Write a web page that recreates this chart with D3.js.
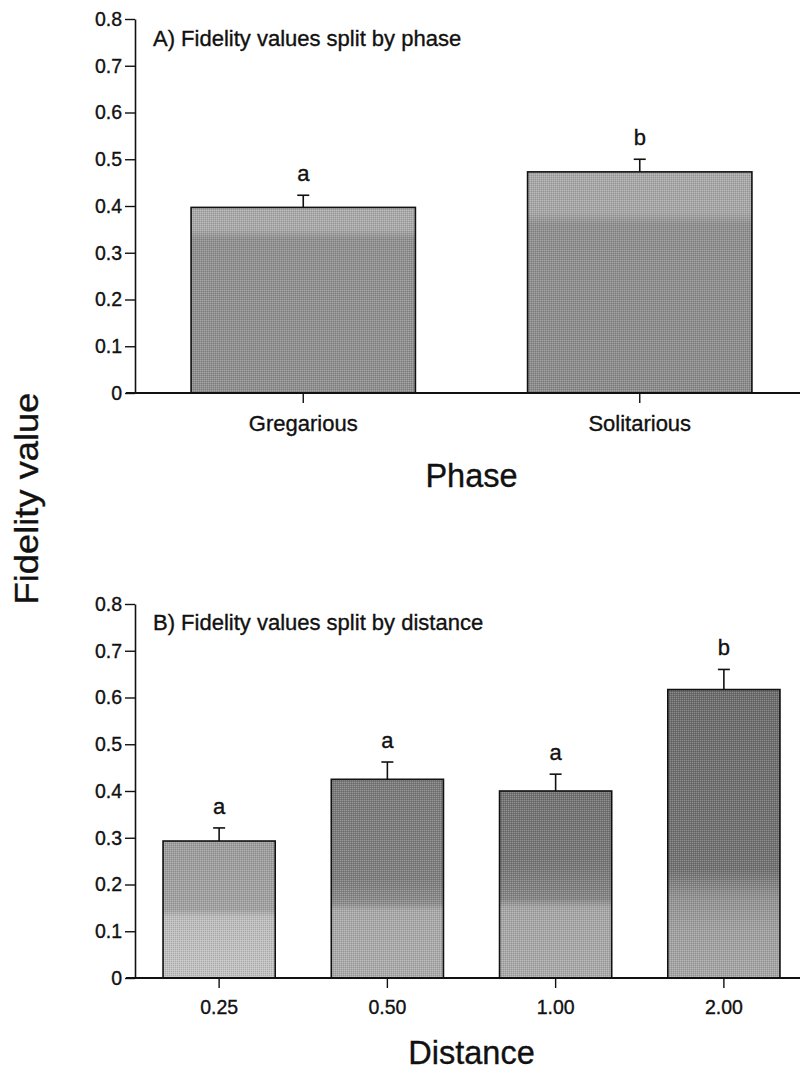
<!DOCTYPE html>
<html>
<head>
<meta charset="utf-8">
<script src="https://cdn.jsdelivr.net/npm/d3@7/dist/d3.min.js"></script>
<style>
  html, body { margin: 0; padding: 0; background: #fff; }
  svg { display: block; }
  text { font-family: "Liberation Sans", Arial, Helvetica, sans-serif; fill: #111; stroke: #111; stroke-width: 0.35px; }
</style>
</head>
<body>
<svg id="chart" width="800" height="1079"></svg>
<script>
// ---------------- DATA ----------------
const phaseCategories = ["Gregarious", "Solitarious"];
const phaseMeans = [0.397, 0.473];
const phaseErrors = [0.026, 0.027];
const phaseLetters = ["a", "b"];

const distanceCategories = ["0.25", "0.50", "1.00", "2.00"];
const distanceMeans = [0.293, 0.425, 0.400, 0.617];
const distanceErrors = [0.028, 0.037, 0.036, 0.043];
const distanceLetters = ["a", "a", "a", "b"];

const yTickValues = [0, 0.1, 0.2, 0.3, 0.4, 0.5, 0.6, 0.7, 0.8];
const yTickLabels = ["0", "0.1", "0.2", "0.3", "0.4", "0.5", "0.6", "0.7", "0.8"];

const panelTitles = ["A) Fidelity values split by phase", "B) Fidelity values split by distance"];
const xAxisTitles = ["Phase", "Distance"];
const yAxisTitle = "Fidelity value";

// ---------------- STYLE (shading of the scanned halftone bars) ----------------
// each entry: [value level, grey colour] from bottom to top of the bar
const phaseShades = [
  [[0, "#8e8e8e"], [0.33, "#909090"], [0.35, "#a9a9a9"], [0.40, "#ababab"]],
  [[0, "#8b8b8b"], [0.36, "#8f8f8f"], [0.385, "#a6a6a6"], [0.48, "#a9a9a9"]]
];
const distanceShades = [
  [[0, "#c2c2c2"], [0.13, "#bdbdbd"], [0.145, "#a2a2a2"], [0.30, "#9c9c9c"]],
  [[0, "#ababab"], [0.145, "#a9a9a9"], [0.16, "#8c8c8c"], [0.21, "#7e7e7e"], [0.43, "#7a7a7a"]],
  [[0, "#aaaaaa"], [0.15, "#a6a6a6"], [0.17, "#858585"], [0.25, "#767676"], [0.41, "#727272"]],
  [[0, "#a6a6a6"], [0.10, "#a0a0a0"], [0.17, "#939393"], [0.23, "#727272"], [0.62, "#6c6c6c"]]
];

// ---------------- LAYOUT ----------------
const svg = d3.select("#chart");
const W = 800;
const axisX = 135;
const xRange = [135, 808];
const numFont = '"DejaVu Sans", Verdana, sans-serif';

const defs = svg.append("defs");
// halftone texture overlay
const pat = defs.append("pattern")
  .attr("id", "halftone").attr("patternUnits", "userSpaceOnUse")
  .attr("width", 2).attr("height", 2);
pat.append("rect").attr("x", 0).attr("y", 0).attr("width", 1).attr("height", 1)
  .attr("fill", "#fff").attr("fill-opacity", 0.22);
pat.append("rect").attr("x", 1).attr("y", 1).attr("width", 1).attr("height", 1)
  .attr("fill", "#000").attr("fill-opacity", 0.12);

function drawPanel(cfg) {
  const y = d3.scaleLinear().domain([0, 0.8]).range([cfg.y0, cfg.y1]);
  const x = d3.scaleBand().domain(cfg.categories).range(xRange)
    .paddingInner(1 / 3).paddingOuter(1 / 6);

  const g = svg.append("g");

  // gradients
  cfg.categories.forEach((c, i) => {
    const grad = defs.append("linearGradient")
      .attr("id", cfg.id + "grad" + i)
      .attr("gradientUnits", "userSpaceOnUse")
      .attr("x1", 0).attr("x2", 0)
      .attr("y1", y(0)).attr("y2", y(0.8));
    cfg.shades[i].forEach(s => {
      grad.append("stop").attr("offset", s[0] / 0.8).attr("stop-color", s[1]);
    });
  });

  const data = cfg.categories.map((c, i) => ({
    cat: c, mean: cfg.means[i], err: cfg.errors[i], letter: cfg.letters[i], i
  }));

  // bars
  g.selectAll("rect.bar").data(data).enter().append("rect")
    .attr("class", "bar")
    .attr("x", d => x(d.cat))
    .attr("y", d => y(d.mean))
    .attr("width", x.bandwidth())
    .attr("height", d => y(0) - y(d.mean))
    .attr("fill", d => `url(#${cfg.id}grad${d.i})`);
  g.selectAll("rect.tex").data(data).enter().append("rect")
    .attr("class", "tex")
    .attr("x", d => x(d.cat))
    .attr("y", d => y(d.mean))
    .attr("width", x.bandwidth())
    .attr("height", d => y(0) - y(d.mean))
    .attr("fill", "url(#halftone)")
    .attr("stroke", "#111").attr("stroke-width", 1.6);

  // error bars
  const cx = d => x(d.cat) + x.bandwidth() / 2;
  g.selectAll("line.err").data(data).enter().append("line")
    .attr("x1", cx).attr("x2", cx)
    .attr("y1", d => y(d.mean)).attr("y2", d => y(d.mean + d.err))
    .attr("stroke", "#111").attr("stroke-width", 1.6);
  g.selectAll("line.cap").data(data).enter().append("line")
    .attr("x1", d => cx(d) - 6).attr("x2", d => cx(d) + 6)
    .attr("y1", d => y(d.mean + d.err)).attr("y2", d => y(d.mean + d.err))
    .attr("stroke", "#111").attr("stroke-width", 1.6);

  // letters
  g.selectAll("text.letter").data(data).enter().append("text")
    .attr("x", cx)
    .attr("y", d => y(d.mean + d.err) - 14)
    .attr("text-anchor", "middle")
    .attr("font-size", 22)
    .text(d => d.letter);

  // y axis
  const yAxis = d3.axisLeft(y).tickValues(yTickValues)
    .tickFormat((d, i) => yTickLabels[i]).tickSize(10).tickSizeOuter(0).tickPadding(3);
  const ya = g.append("g").attr("transform", `translate(${axisX},0)`).call(yAxis);
  ya.select(".domain").attr("stroke", "#111").attr("stroke-width", 1.6);
  ya.selectAll(".tick line").attr("stroke", "#111").attr("stroke-width", 1.4);
  ya.selectAll(".tick text")
    .attr("font-size", 19.5)
    .attr("font-family", numFont)
    .attr("fill", "#111");

  // x axis
  const xAxis = d3.axisBottom(x).tickSize(10).tickSizeOuter(0).tickPadding(12);
  const xa = g.append("g").attr("transform", `translate(0,${y(0)})`).call(xAxis);
  xa.select(".domain").remove();
  xa.selectAll(".tick line").attr("stroke", "#111").attr("stroke-width", 1.4);
  xa.selectAll(".tick text")
    .attr("font-size", cfg.xLabelSize)
    .attr("font-family", cfg.xLabelFont)
    .attr("fill", "#111");
  g.append("line")
    .attr("x1", axisX - 9).attr("x2", W)
    .attr("y1", y(0)).attr("y2", y(0))
    .attr("stroke", "#111").attr("stroke-width", 1.8);

  // panel title
  g.append("text")
    .attr("x", axisX + 18).attr("y", cfg.titleY)
    .attr("font-size", 22)
    .text(cfg.title);

  // x axis title
  g.append("text")
    .attr("x", (xRange[0] + xRange[1]) / 2)
    .attr("y", cfg.xTitleY)
    .attr("text-anchor", "middle")
    .attr("font-size", 32.5)
    .text(cfg.xTitle);
}

drawPanel({
  id: "A", categories: phaseCategories, means: phaseMeans, errors: phaseErrors,
  letters: phaseLetters, shades: phaseShades, y0: 393, y1: 19,
  title: panelTitles[0], titleY: 45.5, xTitle: xAxisTitles[0], xTitleY: 487,
  xLabelSize: 22, xLabelFont: '"Liberation Sans", Arial, sans-serif'
});
drawPanel({
  id: "B", categories: distanceCategories, means: distanceMeans, errors: distanceErrors,
  letters: distanceLetters, shades: distanceShades, y0: 978, y1: 604,
  title: panelTitles[1], titleY: 629.5, xTitle: xAxisTitles[1], xTitleY: 1064,
  xLabelSize: 19.5, xLabelFont: numFont
});

// shared y axis title
svg.append("text")
  .attr("transform", "translate(38,498.5) rotate(-90)")
  .attr("text-anchor", "middle")
  .attr("font-size", 33)
  .attr("textLength", 212)
  .attr("lengthAdjust", "spacingAndGlyphs")
  .text(yAxisTitle);
</script>
</body>
</html>
